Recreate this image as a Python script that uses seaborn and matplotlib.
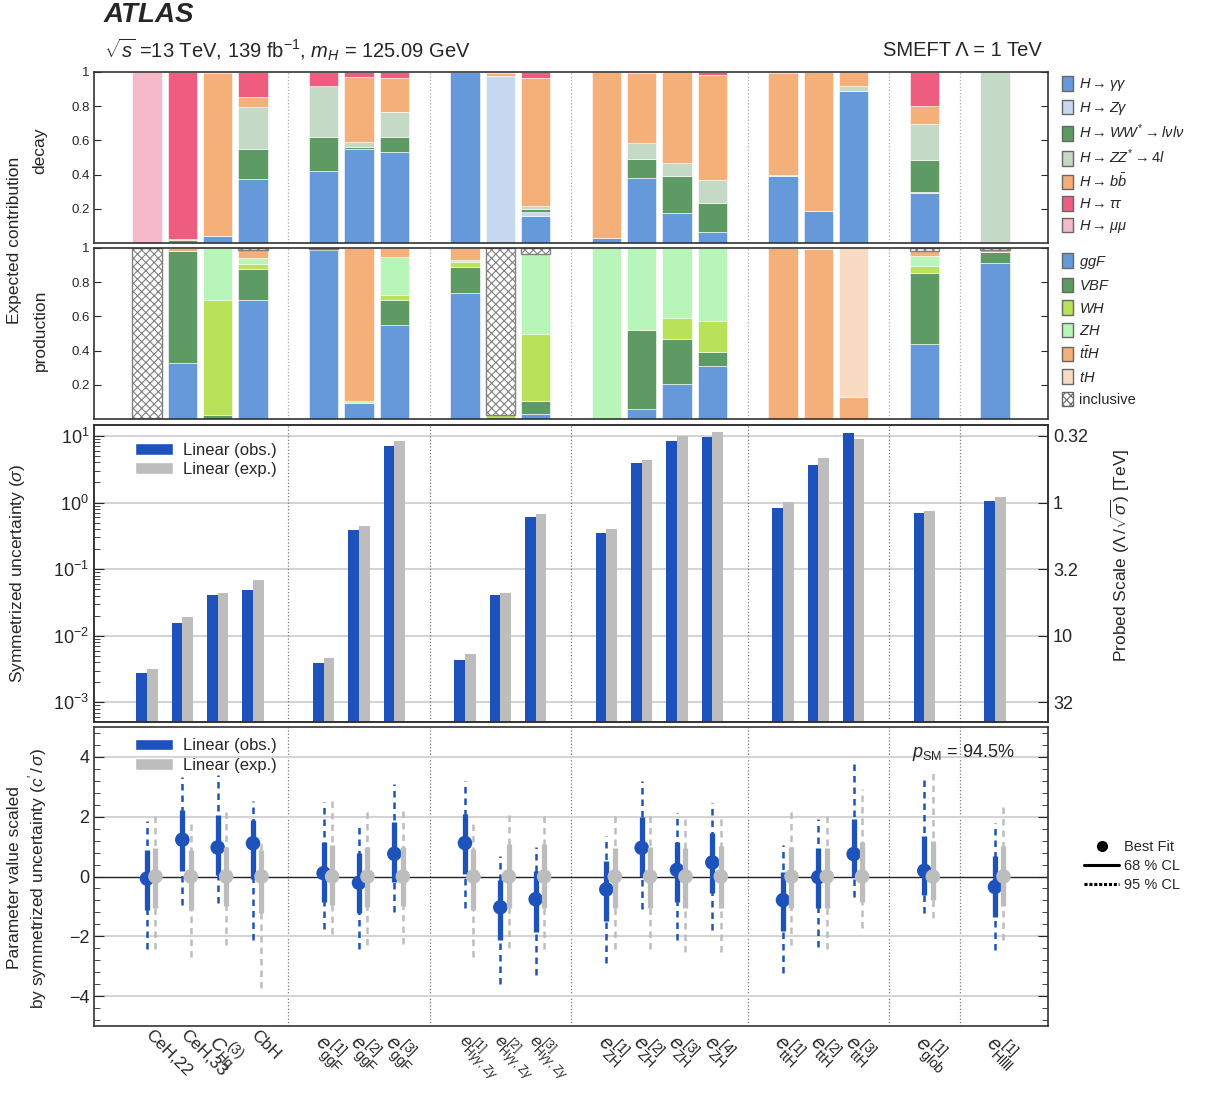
import numpy as np
import pandas as pd
import seaborn as sns
import matplotlib.pyplot as plt
import matplotlib.transforms as mtransforms
from matplotlib.patches import Patch
from matplotlib.lines import Line2D
from matplotlib.ticker import MultipleLocator, NullLocator

sns.set_style('ticks')
plt.rcParams['font.family'] = ['Liberation Sans', 'DejaVu Sans']
plt.rcParams['mathtext.fontset'] = 'custom'
plt.rcParams['mathtext.rm'] = 'Liberation Sans'
plt.rcParams['mathtext.it'] = 'Liberation Sans:italic'
plt.rcParams['mathtext.bf'] = 'Liberation Sans:bold'
plt.rcParams['hatch.linewidth'] = 0.8
plt.rcParams['axes.linewidth'] = 1.2
plt.rcParams['axes.edgecolor'] = '#333333'

W, H = 1220, 1097

# ---- data ----
positions = [0, 1, 2, 3, 5, 6, 7, 9, 10, 11, 13, 14, 15, 16, 18, 19, 20, 22, 24]
separators = [4, 8, 12, 17, 21, 23]
param_labels = ['CeH,22', 'CeH,33', r'$C_{\mathrm{Hq}}^{(3)}$', 'CbH',
                r'$e_{\mathrm{ggF}}^{[1]}$', r'$e_{\mathrm{ggF}}^{[2]}$', r'$e_{\mathrm{ggF}}^{[3]}$',
                r'$e_{\mathrm{H}\gamma\gamma,\mathrm{Z}\gamma}^{[1]}$',
                r'$e_{\mathrm{H}\gamma\gamma,\mathrm{Z}\gamma}^{[2]}$',
                r'$e_{\mathrm{H}\gamma\gamma,\mathrm{Z}\gamma}^{[3]}$',
                r'$e_{\mathrm{ZH}}^{[1]}$', r'$e_{\mathrm{ZH}}^{[2]}$', r'$e_{\mathrm{ZH}}^{[3]}$', r'$e_{\mathrm{ZH}}^{[4]}$',
                r'$e_{\mathrm{ttH}}^{[1]}$', r'$e_{\mathrm{ttH}}^{[2]}$', r'$e_{\mathrm{ttH}}^{[3]}$',
                r'$e_{\mathrm{glob}}^{[1]}$', r'$e_{\mathrm{Hllll}}^{[1]}$']

# expected decay contributions
dec_yy = [0, 0.008, 0.043, 0.373, 0.42, 0.547, 0.535, 1.0, 0, 0.156, 0.027, 0.383, 0.176, 0.066, 0.393, 0.19, 0.889, 0.293, 0.008]
dec_zy = [0, 0, 0, 0.003, 0.003, 0.003, 0, 0, 0.975, 0.023, 0, 0, 0, 0, 0.007, 0, 0, 0.006, 0]
dec_ww = [0, 0.01, 0, 0.175, 0.195, 0.013, 0.086, 0, 0, 0.02, 0, 0.107, 0.214, 0.17, 0, 0, 0, 0.185, 0]
dec_zz = [0, 0.002, 0, 0.242, 0.30, 0.028, 0.145, 0, 0, 0.016, 0, 0.092, 0.075, 0.135, 0, 0, 0.027, 0.209, 0.992]
dec_bb = [0, 0.005, 0.95, 0.059, 0, 0.377, 0.199, 0, 0.02, 0.75, 0.973, 0.412, 0.535, 0.609, 0.594, 0.81, 0.084, 0.106, 0]
dec_tautau = [0, 0.975, 0.007, 0.148, 0.082, 0.032, 0.035, 0, 0.005, 0.035, 0, 0.006, 0, 0.02, 0.006, 0, 0, 0.201, 0]
dec_mumu = [1.0, 0, 0, 0, 0, 0, 0, 0, 0, 0, 0, 0, 0, 0, 0, 0, 0, 0, 0]

# expected production contributions
prod_ggf = [0, 0.327, 0, 0.698, 0.99, 0.094, 0.55, 0.739, 0, 0.029, 0, 0.058, 0.207, 0.312, 0, 0, 0, 0.439, 0.912]
prod_vbf = [0, 0.653, 0.021, 0.181, 0.005, 0, 0.148, 0.15, 0, 0.076, 0.006, 0.461, 0.259, 0.078, 0, 0, 0, 0.415, 0.065]
prod_wh = [0, 0, 0.677, 0.029, 0, 0, 0.029, 0.027, 0.025, 0.394, 0, 0, 0.127, 0.181, 0, 0, 0, 0.039, 0]
prod_zh = [0, 0, 0.302, 0.034, 0, 0.009, 0.218, 0.012, 0, 0.468, 0.994, 0.481, 0.407, 0.429, 0, 0, 0, 0.058, 0]
prod_tth = [0, 0.02, 0, 0.044, 0, 0.897, 0.055, 0.072, 0, 0, 0, 0, 0, 0, 1.0, 0.992, 0.127, 0.029, 0.009]
prod_th = [0, 0, 0, 0, 0, 0, 0, 0, 0, 0, 0, 0, 0, 0, 0, 0.008, 0.873, 0, 0]
prod_incl = [1.0, 0, 0, 0.014, 0.005, 0, 0, 0, 0.975, 0.033, 0, 0, 0, 0, 0, 0, 0, 0.02, 0.014]

# symmetrized uncertainties
sigma_obs = [2.75e-3, 0.0155, 0.0403, 0.049, 3.94e-3, 0.385, 7.08, 4.27e-3, 0.0412, 0.617,
             0.343, 3.89, 8.51, 9.77, 0.832, 3.67, 11.2, 0.692, 1.06]
sigma_exp = [3.13e-3, 0.0188, 0.0442, 0.069, 4.57e-3, 0.452, 8.32, 5.25e-3, 0.0437, 0.668,
             0.394, 4.37, 10.1, 11.35, 1.035, 4.68, 9.02, 0.759, 1.22]

# scaled parameter values
best_obs = [-0.07, 1.23, 0.97, 1.11, 0.11, -0.21, 0.76, 1.12, -1.03, -0.76, -0.43, 0.96, 0.22, 0.47, -0.79, -0.02, 0.75, 0.19, -0.35]
obs68_lo = [-1.11, 0.19, 0.04, -0.09, -0.85, -1.22, -0.18, 0.08, -2.11, -1.84, -1.49, 0.0, -0.84, -0.55, -1.83, -1.05, -0.03, -0.61, -1.34]
obs68_hi = [0.885, 2.23, 2.05, 1.9, 1.14, 0.77, 1.82, 2.1, -0.11, 0.19, 0.51, 2.0, 1.16, 1.44, 0.15, 0.95, 1.93, 1.36, 0.67]
obs95_lo = [-2.44, -0.96, -0.87, -2.14, -1.77, -2.44, -1.19, -1.06, -3.6, -3.3, -2.88, -1.1, -2.13, -1.8, -3.22, -2.36, -0.7, -1.23, -2.47]
obs95_hi = [1.86, 3.33, 3.4, 2.51, 2.49, 1.8, 3.09, 3.2, 0.67, 0.99, 1.36, 3.18, 2.11, 2.47, 1.05, 1.93, 3.81, 3.35, 1.79]
best_exp = [0.0] * 19
exp68_lo = [-1.05, -1.12, -1.0, -1.23, -0.94, -1.02, -0.99, -1.11, -1.05, -1.05, -1.05, -1.05, -1.06, -1.05, -1.05, -1.05, -0.85, -0.79, -0.97]
exp68_hi = [0.95, 0.9, 1.0, 0.9, 1.05, 0.99, 1.0, 0.92, 1.08, 1.09, 0.95, 0.97, 0.96, 1.02, 1.0, 0.96, 1.14, 1.18, 1.03]
exp95_lo = [-2.44, -2.69, -2.3, -3.73, -1.92, -2.3, -2.25, -2.69, -2.38, -2.44, -2.44, -2.44, -2.51, -2.51, -2.3, -2.42, -1.71, -1.4, -2.12]
exp95_hi = [2.05, 1.87, 2.24, 1.29, 2.62, 2.18, 2.24, 1.93, 2.1, 2.08, 2.05, 2.07, 1.97, 1.98, 2.19, 2.15, 2.93, 3.51, 2.39]

# ---- styles ----
dec_modes = ['yy', 'Zy', 'WW', 'ZZ', 'bb', 'tautau', 'mumu']
dec_values = {'yy': dec_yy, 'Zy': dec_zy, 'WW': dec_ww, 'ZZ': dec_zz,
              'bb': dec_bb, 'tautau': dec_tautau, 'mumu': dec_mumu}
dec_colors = {'yy': '#6699d9', 'Zy': '#c6d9f1', 'WW': '#5e9a63', 'ZZ': '#c4d9c6',
              'bb': '#f5af79', 'tautau': '#ee5d80', 'mumu': '#f5b9c9'}
dec_labels = [r'$H\rightarrow\gamma\gamma$', r'$H\rightarrow Z\gamma$',
              r'$H\rightarrow WW^{*}\rightarrow l\nu l\nu$', r'$H\rightarrow ZZ^{*}\rightarrow 4l$',
              r'$H\rightarrow b\bar{b}$', r'$H\rightarrow\tau\tau$', r'$H\rightarrow\mu\mu$']

prod_modes = ['ggF', 'VBF', 'WH', 'ZH', 'ttH', 'tH', 'incl']
prod_values = {'ggF': prod_ggf, 'VBF': prod_vbf, 'WH': prod_wh, 'ZH': prod_zh,
               'ttH': prod_tth, 'tH': prod_th, 'incl': prod_incl}
prod_colors = {'ggF': '#6699d9', 'VBF': '#5e9a63', 'WH': '#b9e259', 'ZH': '#b8f5b8',
               'ttH': '#f5af79', 'tH': '#f9dbc4', 'incl': '#ffffff'}
prod_labels = [r'$ggF$', r'$VBF$', r'$WH$', r'$ZH$', r'$t\bar{t}H$', r'$tH$', 'inclusive']

c_obs = '#1c52ba'
c_exp = '#bdbdbd'
xlim = (-1.5, 25.5)


def long_df(modes, values):
    rows = []
    for m in modes:
        for p, v in zip(positions, values[m]):
            rows.append((p, m, v))
    return pd.DataFrame(rows, columns=['pos', 'mode', 'frac'])


def frac_axes(y_top, y_bot):
    return [94 / W, 1 - y_bot / H, 954 / W, (y_bot - y_top) / H]


fig = plt.figure(figsize=(W / 100, H / 100), dpi=100)
ax1 = fig.add_axes(frac_axes(72, 243))
ax2 = fig.add_axes(frac_axes(248, 419))
ax3 = fig.add_axes(frac_axes(425, 722))
ax4 = fig.add_axes(frac_axes(727, 1026))

# ---- panel 1: decay ----
sns.histplot(data=long_df(dec_modes, dec_values), x='pos', weights='frac', hue='mode',
             hue_order=dec_modes[::-1], multiple='stack', discrete=True, shrink=0.83,
             palette=dec_colors, alpha=1, edgecolor='white', linewidth=0.4,
             legend=False, ax=ax1)

# ---- panel 2: production ----
sns.histplot(data=long_df(prod_modes, prod_values), x='pos', weights='frac', hue='mode',
             hue_order=prod_modes[::-1], multiple='stack', discrete=True, shrink=0.83,
             palette=prod_colors, alpha=1, edgecolor='white', linewidth=0.4,
             legend=False, ax=ax2)
for p in ax2.patches:
    if tuple(np.round(p.get_facecolor(), 3)) == (1.0, 1.0, 1.0, 1.0) and p.get_height() > 0:
        p.set_hatch('xxxx')
        p.set_edgecolor('#808080')
        p.set_linewidth(1.0)

for ax, labels, cols, modes, lspace, ytop in [(ax1, dec_labels, dec_colors, dec_modes, 0.42, 0.975),
                                              (ax2, prod_labels, prod_colors, prod_modes, 0.5, 0.968)]:
    ax.set_xlim(xlim)
    ax.set_ylim(0, 1)
    ax.set_xlabel('')
    ax.set_ylabel('')
    ax.set_yticks([0.2, 0.4, 0.6, 0.8, 1.0])
    ax.set_yticklabels(['0.2', '0.4', '0.6', '0.8', '1'])
    ax.tick_params(axis='y', which='both', direction='in', left=True, right=True,
                   length=5, labelsize=9.5, pad=3)
    ax.tick_params(axis='x', which='both', length=0, labelbottom=False)
    for s in separators:
        ax.axvline(s, color='#aaaaaa', linestyle=':', linewidth=0.9, zorder=0)
    handles = []
    for m, lab in zip(modes, labels):
        if m == 'incl':
            handles.append(Patch(facecolor='white', edgecolor='#666666', hatch='xxxx', linewidth=1.0, label=lab))
        else:
            handles.append(Patch(facecolor=cols[m], edgecolor='#666666', linewidth=1.0, label=lab))
    ax.legend(handles=handles, loc='upper left', bbox_to_anchor=(1.015, ytop),
              frameon=False, fontsize=10.5, handlelength=0.75, handleheight=1.15,
              handletextpad=0.4, labelspacing=lspace, borderpad=0, borderaxespad=0)

# ---- panel 3: uncertainties ----
unc_df = pd.DataFrame({'pos': positions * 2,
                       'sigma': sigma_obs + sigma_exp,
                       'fit': ['obs'] * len(positions) + ['exp'] * len(positions)})
sns.barplot(data=unc_df, x='pos', y='sigma', hue='fit', hue_order=['obs', 'exp'],
            native_scale=True, width=0.6, palette={'obs': c_obs, 'exp': c_exp},
            saturation=1, errorbar=None, linewidth=0, legend=False, ax=ax3)
ax3.set_yscale('log')
ax3.set_xlim(xlim)
ax3.set_ylim(5.07e-4, 14.6)
ax3.set_xlabel('')
ax3.set_ylabel('')
for dec in [1e1, 1e0, 1e-1, 1e-2, 1e-3]:
    ax3.axhline(dec, color='#d4d4d4', linewidth=1.5, zorder=0)
for s in separators:
    ax3.axvline(s, color='#777777', linestyle=':', linewidth=0.9, zorder=0)
ax3.tick_params(axis='y', which='both', direction='in', left=True, right=False, labelsize=13)
ax3.tick_params(axis='y', which='major', length=7)
ax3.tick_params(axis='y', which='minor', length=4)
ax3.tick_params(axis='x', which='both', length=0, labelbottom=False)
ax3.legend(handles=[Patch(facecolor=c_obs, label='Linear (obs.)'),
                    Patch(facecolor=c_exp, label='Linear (exp.)')],
           loc='upper left', bbox_to_anchor=(0.043, 0.94), frameon=False, fontsize=12,
           handlelength=2.3, handleheight=0.7, handletextpad=0.6, labelspacing=0.25,
           borderpad=0, borderaxespad=0)

ax3r = ax3.twinx()
ax3r.set_yscale('log')
ax3r.set_ylim(ax3.get_ylim())
ax3r.set_yticks([10, 1, 0.1, 0.01, 0.001])
ax3r.set_yticklabels(['0.32', '1', '3.2', '10', '32'])
ax3r.yaxis.set_minor_locator(NullLocator())
ax3r.tick_params(axis='y', direction='in', length=7, labelsize=13)
ax3r.grid(False)

# ---- panel 4: scaled parameter values ----
pos_obs = np.array(positions, dtype=float)
pos_exp = pos_obs + 0.24
for s in separators:
    ax4.axvline(s, color='#777777', linestyle=':', linewidth=0.9, zorder=0)
for g in [-4, -2, 2, 4]:
    ax4.axhline(g, color='#d4d4d4', linewidth=1.5, zorder=0)
ax4.axhline(0, color='#222222', linewidth=1.0, zorder=1)

ax4.vlines(pos_obs, obs95_lo, obs95_hi, colors=c_obs, linewidth=1.8,
           linestyles=(0, (2.6, 2.0)), zorder=3)
ax4.vlines(pos_obs, obs68_lo, obs68_hi, colors=c_obs, linewidth=3.8, zorder=4)
sns.scatterplot(x=pos_obs, y=best_obs, color=c_obs, s=110, edgecolor='none', zorder=5, ax=ax4)
ax4.vlines(pos_exp, exp95_lo, exp95_hi, colors=c_exp, linewidth=1.8,
           linestyles=(0, (2.6, 2.0)), zorder=6)
ax4.vlines(pos_exp, exp68_lo, exp68_hi, colors=c_exp, linewidth=3.8, zorder=7)
sns.scatterplot(x=pos_exp, y=best_exp, color=c_exp, s=110, edgecolor='none', zorder=8, ax=ax4)

ax4.set_xlim(xlim)
ax4.set_ylim(-5, 5)
ax4.set_yticks([-4, -2, 0, 2, 4])
ax4.set_yticklabels(['\u22124', '\u22122', '0', '2', '4'])
ax4.yaxis.set_minor_locator(MultipleLocator(0.4))
ax4.tick_params(axis='y', which='both', direction='in', left=True, right=True, labelsize=13)
ax4.tick_params(axis='y', which='major', length=7)
ax4.tick_params(axis='y', which='minor', length=4)
ax4.set_xticks(positions)
ax4.set_xticklabels(param_labels, rotation=-45, ha='left', va='top',
                    rotation_mode='anchor', fontsize=12.5)
ax4.tick_params(axis='x', which='both', length=0, pad=1)
shift = mtransforms.ScaledTranslation(6 / 100, 0, fig.dpi_scale_trans)
for lab in ax4.get_xticklabels():
    lab.set_transform(lab.get_transform() + shift)
    txt = lab.get_text()
    if 'gamma' in txt:
        lab.set_fontsize(12.5)
    elif txt.startswith('$e'):
        lab.set_fontsize(14.5)
    elif txt.startswith('$C'):
        lab.set_fontsize(14)
ax4.set_xlabel('')
ax4.set_ylabel('')

leg_a = ax4.legend(handles=[Patch(facecolor=c_obs, label='Linear (obs.)'),
                            Patch(facecolor=c_exp, label='Linear (exp.)')],
                   loc='upper left', bbox_to_anchor=(0.043, 0.962), frameon=False, fontsize=12,
                   handlelength=2.3, handleheight=0.7, handletextpad=0.6, labelspacing=0.25,
                   borderpad=0, borderaxespad=0)
ax4.add_artist(leg_a)
ax4.legend(handles=[Line2D([], [], marker='o', color='black', linestyle='none', markersize=7, label='Best Fit'),
                    Line2D([], [], color='black', linewidth=2.2, label='68 % CL'),
                    Line2D([], [], color='black', linewidth=2.2, linestyle=(0, (1, 0.6)), label='95 % CL')],
           loc='center left', bbox_to_anchor=(1.038, 0.535), frameon=False, fontsize=10.5,
           handlelength=2.4, handletextpad=0.3, labelspacing=0.35, borderpad=0, borderaxespad=0)
ax4.text(0.857, 0.916, r'$p_{\mathrm{SM}}$ = 94.5%', transform=ax4.transAxes,
         fontsize=13, va='center', ha='left')

# ---- titles and axis labels ----
fig.text(104 / W, 1 - 15 / H, 'ATLAS', fontsize=20, fontweight='bold', fontstyle='italic',
         va='center', ha='left')
fig.text(104 / W, 1 - 50 / H, r'$\sqrt{s}$ =13 TeV, 139 fb$^{-1}$, $m_{H}$ = 125.09 GeV',
         fontsize=14.5, va='center', ha='left')
fig.text(1042 / W, 1 - 50 / H, 'SMEFT \u039b = 1 TeV', fontsize=14.5, va='center', ha='right')

fig.text(15 / W, 1 - 240 / H, 'Expected contribution', rotation=90, fontsize=12.5,
         va='center', ha='center')
fig.text(40 / W, 1 - 151 / H, 'decay', rotation=90, fontsize=12.5, va='center', ha='center')
fig.text(40 / W, 1 - 330 / H, 'production', rotation=90, fontsize=12.5, va='center', ha='center')
fig.text(18 / W, 1 - 573 / H, r'Symmetrized uncertainty ($\sigma$)', rotation=90, fontsize=12.5,
         va='center', ha='center')
fig.text(28 / W, 1 - 878 / H, "Parameter value scaled\nby symmetrized uncertainty ($c'\\,/\\,\\sigma$)",
         rotation=90, fontsize=12.5, va='center', ha='center', multialignment='center')
fig.text(1120 / W, 1 - 555 / H, r'Probed Scale ($\Lambda\,/\sqrt{\sigma}$) [TeV]', rotation=90,
         fontsize=12.5, va='center', ha='center')

fig.savefig('out.png', dpi=100)
